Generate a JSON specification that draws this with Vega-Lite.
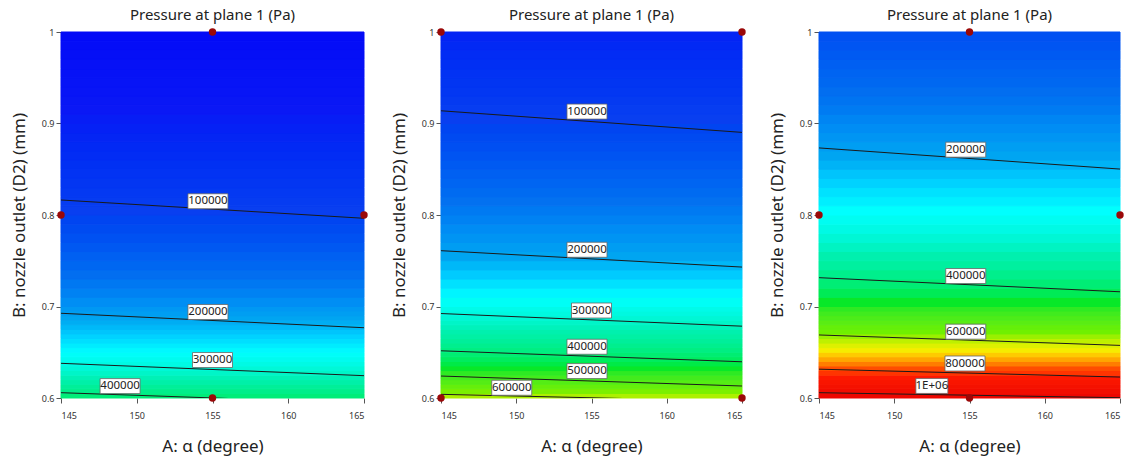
{
  "$schema": "https://vega.github.io/schema/vega-lite/v6.json",
  "background": "white",
  "padding": {"left": 10, "top": 8, "right": 4, "bottom": 4},
  "config": {
    "font": "Noto Sans",
    "view": {"stroke": null},
    "axis": {"domain": false, "grid": false, "tickColor": "#555", "tickSize": 5, "labelFontSize": 9, "labelColor": "#333", "titleFontSize": 17, "titleFontWeight": "normal", "titleColor": "#222"},
    "title": {"fontSize": 15, "fontWeight": "normal", "color": "#222", "offset": 5},
    "concat": {"spacing": 22}
  },
  "datasets": {
    "strips": [
      {"p":1,"a":0.600,"b":0.605,"v":392000},{"p":1,"a":0.605,"b":0.610,"v":375000},{"p":1,"a":0.610,"b":0.615,"v":358000},{"p":1,"a":0.615,"b":0.620,"v":341000},
      {"p":1,"a":0.620,"b":0.625,"v":325000},{"p":1,"a":0.625,"b":0.630,"v":310000},{"p":1,"a":0.630,"b":0.635,"v":297000},{"p":1,"a":0.635,"b":0.640,"v":285000},
      {"p":1,"a":0.640,"b":0.645,"v":274000},{"p":1,"a":0.645,"b":0.650,"v":264000},{"p":1,"a":0.650,"b":0.655,"v":254000},{"p":1,"a":0.655,"b":0.660,"v":245000},
      {"p":1,"a":0.660,"b":0.665,"v":236000},{"p":1,"a":0.665,"b":0.670,"v":227000},{"p":1,"a":0.670,"b":0.675,"v":219000},{"p":1,"a":0.675,"b":0.680,"v":211000},
      {"p":1,"a":0.680,"b":0.685,"v":203000},{"p":1,"a":0.685,"b":0.690,"v":197000},{"p":1,"a":0.690,"b":0.695,"v":190000},{"p":1,"a":0.695,"b":0.700,"v":184000},
      {"p":1,"a":0.70,"b":0.71,"v":175000},{"p":1,"a":0.71,"b":0.72,"v":165000},{"p":1,"a":0.72,"b":0.73,"v":156000},{"p":1,"a":0.73,"b":0.74,"v":147000},
      {"p":1,"a":0.74,"b":0.75,"v":139000},{"p":1,"a":0.75,"b":0.76,"v":131000},{"p":1,"a":0.76,"b":0.77,"v":123000},{"p":1,"a":0.77,"b":0.78,"v":116000},
      {"p":1,"a":0.78,"b":0.79,"v":110000},{"p":1,"a":0.79,"b":0.80,"v":104000},{"p":1,"a":0.80,"b":0.81,"v":99000},{"p":1,"a":0.81,"b":0.82,"v":94000},
      {"p":1,"a":0.82,"b":0.83,"v":89000},{"p":1,"a":0.83,"b":0.84,"v":84000},{"p":1,"a":0.84,"b":0.85,"v":79000},{"p":1,"a":0.85,"b":0.86,"v":75000},
      {"p":1,"a":0.86,"b":0.87,"v":70000},{"p":1,"a":0.87,"b":0.88,"v":66000},{"p":1,"a":0.88,"b":0.89,"v":62000},{"p":1,"a":0.89,"b":0.90,"v":58000},
      {"p":1,"a":0.90,"b":0.91,"v":54000},{"p":1,"a":0.91,"b":0.92,"v":50000},{"p":1,"a":0.92,"b":0.93,"v":46000},{"p":1,"a":0.93,"b":0.94,"v":42000},
      {"p":1,"a":0.94,"b":0.95,"v":38000},{"p":1,"a":0.95,"b":0.96,"v":34000},{"p":1,"a":0.96,"b":0.97,"v":30000},{"p":1,"a":0.97,"b":0.98,"v":26000},
      {"p":1,"a":0.98,"b":0.99,"v":22000},{"p":1,"a":0.99,"b":1.00,"v":18000},

      {"p":2,"a":0.600,"b":0.605,"v":592000},{"p":2,"a":0.605,"b":0.610,"v":565000},{"p":2,"a":0.610,"b":0.615,"v":540000},{"p":2,"a":0.615,"b":0.620,"v":515000},
      {"p":2,"a":0.620,"b":0.625,"v":492000},{"p":2,"a":0.625,"b":0.630,"v":471000},{"p":2,"a":0.630,"b":0.635,"v":452000},{"p":2,"a":0.635,"b":0.640,"v":433000},
      {"p":2,"a":0.640,"b":0.645,"v":415000},{"p":2,"a":0.645,"b":0.650,"v":398000},{"p":2,"a":0.650,"b":0.655,"v":383000},{"p":2,"a":0.655,"b":0.660,"v":370000},
      {"p":2,"a":0.660,"b":0.665,"v":357000},{"p":2,"a":0.665,"b":0.670,"v":345000},{"p":2,"a":0.670,"b":0.675,"v":333000},{"p":2,"a":0.675,"b":0.680,"v":321000},
      {"p":2,"a":0.680,"b":0.685,"v":310000},{"p":2,"a":0.685,"b":0.690,"v":299000},{"p":2,"a":0.690,"b":0.695,"v":289000},{"p":2,"a":0.695,"b":0.700,"v":280000},
      {"p":2,"a":0.70,"b":0.71,"v":267000},{"p":2,"a":0.71,"b":0.72,"v":251000},{"p":2,"a":0.72,"b":0.73,"v":237000},{"p":2,"a":0.73,"b":0.74,"v":223000},
      {"p":2,"a":0.74,"b":0.75,"v":210000},{"p":2,"a":0.75,"b":0.76,"v":197000},{"p":2,"a":0.76,"b":0.77,"v":189000},{"p":2,"a":0.77,"b":0.78,"v":181000},
      {"p":2,"a":0.78,"b":0.79,"v":173000},{"p":2,"a":0.79,"b":0.80,"v":165000},{"p":2,"a":0.80,"b":0.81,"v":158000},{"p":2,"a":0.81,"b":0.82,"v":151000},
      {"p":2,"a":0.82,"b":0.83,"v":144000},{"p":2,"a":0.83,"b":0.84,"v":137000},{"p":2,"a":0.84,"b":0.85,"v":131000},{"p":2,"a":0.85,"b":0.86,"v":125000},
      {"p":2,"a":0.86,"b":0.87,"v":119000},{"p":2,"a":0.87,"b":0.88,"v":114000},{"p":2,"a":0.88,"b":0.89,"v":109000},{"p":2,"a":0.89,"b":0.90,"v":104000},
      {"p":2,"a":0.90,"b":0.91,"v":99000},{"p":2,"a":0.91,"b":0.92,"v":95000},{"p":2,"a":0.92,"b":0.93,"v":90000},{"p":2,"a":0.93,"b":0.94,"v":86000},
      {"p":2,"a":0.94,"b":0.95,"v":82000},{"p":2,"a":0.95,"b":0.96,"v":78000},{"p":2,"a":0.96,"b":0.97,"v":74000},{"p":2,"a":0.97,"b":0.98,"v":70000},
      {"p":2,"a":0.98,"b":0.99,"v":66000},{"p":2,"a":0.99,"b":1.00,"v":62000},

      {"p":3,"a":0.600,"b":0.605,"v":995000},{"p":3,"a":0.605,"b":0.610,"v":955000},{"p":3,"a":0.610,"b":0.615,"v":915000},{"p":3,"a":0.615,"b":0.620,"v":877000},
      {"p":3,"a":0.620,"b":0.625,"v":840000},{"p":3,"a":0.625,"b":0.630,"v":797000},{"p":3,"a":0.630,"b":0.635,"v":765000},{"p":3,"a":0.635,"b":0.640,"v":735000},
      {"p":3,"a":0.640,"b":0.645,"v":707000},{"p":3,"a":0.645,"b":0.650,"v":679000},{"p":3,"a":0.650,"b":0.655,"v":653000},{"p":3,"a":0.655,"b":0.660,"v":628000},
      {"p":3,"a":0.660,"b":0.665,"v":603000},{"p":3,"a":0.665,"b":0.670,"v":581000},{"p":3,"a":0.670,"b":0.675,"v":560000},{"p":3,"a":0.675,"b":0.680,"v":541000},
      {"p":3,"a":0.680,"b":0.685,"v":522000},{"p":3,"a":0.685,"b":0.690,"v":505000},{"p":3,"a":0.690,"b":0.695,"v":488000},{"p":3,"a":0.695,"b":0.700,"v":472000},
      {"p":3,"a":0.70,"b":0.71,"v":452000},{"p":3,"a":0.71,"b":0.72,"v":422000},{"p":3,"a":0.72,"b":0.73,"v":396000},{"p":3,"a":0.73,"b":0.74,"v":373000},
      {"p":3,"a":0.74,"b":0.75,"v":351000},{"p":3,"a":0.75,"b":0.76,"v":332000},{"p":3,"a":0.76,"b":0.77,"v":315000},{"p":3,"a":0.77,"b":0.78,"v":299000},
      {"p":3,"a":0.78,"b":0.79,"v":284000},{"p":3,"a":0.79,"b":0.80,"v":271000},{"p":3,"a":0.80,"b":0.81,"v":259000},{"p":3,"a":0.81,"b":0.82,"v":247000},
      {"p":3,"a":0.82,"b":0.83,"v":238000},{"p":3,"a":0.83,"b":0.84,"v":227000},{"p":3,"a":0.84,"b":0.85,"v":218000},{"p":3,"a":0.85,"b":0.86,"v":207000},
      {"p":3,"a":0.86,"b":0.87,"v":197000},{"p":3,"a":0.87,"b":0.88,"v":190000},{"p":3,"a":0.88,"b":0.89,"v":182000},{"p":3,"a":0.89,"b":0.90,"v":174000},
      {"p":3,"a":0.90,"b":0.91,"v":167000},{"p":3,"a":0.91,"b":0.92,"v":159000},{"p":3,"a":0.92,"b":0.93,"v":153000},{"p":3,"a":0.93,"b":0.94,"v":147000},
      {"p":3,"a":0.94,"b":0.95,"v":141000},{"p":3,"a":0.95,"b":0.96,"v":136000},{"p":3,"a":0.96,"b":0.97,"v":130000},{"p":3,"a":0.97,"b":0.98,"v":125000},
      {"p":3,"a":0.98,"b":0.99,"v":120000},{"p":3,"a":0.99,"b":1.00,"v":116000}
    ],
    "lines": [
      {"p":1,"lv":100000,"x":145,"y":0.8164},{"p":1,"lv":100000,"x":165,"y":0.7964},
      {"p":1,"lv":200000,"x":145,"y":0.6926},{"p":1,"lv":200000,"x":165,"y":0.6768},
      {"p":1,"lv":300000,"x":145,"y":0.6379},{"p":1,"lv":300000,"x":165,"y":0.6244},
      {"p":1,"lv":400000,"x":145,"y":0.6058},{"p":1,"lv":400000,"x":156,"y":0.5995},
      {"p":2,"lv":100000,"x":145,"y":0.9139},{"p":2,"lv":100000,"x":165,"y":0.8903},
      {"p":2,"lv":200000,"x":145,"y":0.7610},{"p":2,"lv":200000,"x":165,"y":0.7431},
      {"p":2,"lv":300000,"x":145,"y":0.6923},{"p":2,"lv":300000,"x":165,"y":0.6785},
      {"p":2,"lv":400000,"x":145,"y":0.6516},{"p":2,"lv":400000,"x":165,"y":0.6396},
      {"p":2,"lv":500000,"x":145,"y":0.6240},{"p":2,"lv":500000,"x":165,"y":0.6131},
      {"p":2,"lv":600000,"x":145,"y":0.6040},{"p":2,"lv":600000,"x":157,"y":0.5995},
      {"p":3,"lv":200000,"x":145,"y":0.8733},{"p":3,"lv":200000,"x":165,"y":0.8502},
      {"p":3,"lv":400000,"x":145,"y":0.7315},{"p":3,"lv":400000,"x":165,"y":0.7161},
      {"p":3,"lv":600000,"x":145,"y":0.6689},{"p":3,"lv":600000,"x":165,"y":0.6575},
      {"p":3,"lv":800000,"x":145,"y":0.6315},{"p":3,"lv":800000,"x":165,"y":0.6229},
      {"p":3,"lv":1000000,"x":145,"y":0.6058},{"p":3,"lv":1000000,"x":165,"y":0.6003}
    ],
    "labels": [
      {"p":1,"t":"100000","x":154.7,"y":0.815},{"p":1,"t":"200000","x":154.7,"y":0.694},
      {"p":1,"t":"300000","x":155.0,"y":0.6415},{"p":1,"t":"400000","x":148.9,"y":0.613},
      {"p":2,"t":"100000","x":154.7,"y":0.913},{"p":2,"t":"200000","x":154.7,"y":0.762},
      {"p":2,"t":"300000","x":155.0,"y":0.6956},{"p":2,"t":"400000","x":154.7,"y":0.656},
      {"p":2,"t":"500000","x":154.7,"y":0.6294},{"p":2,"t":"600000","x":149.7,"y":0.6112},
      {"p":3,"t":"200000","x":154.75,"y":0.8714},{"p":3,"t":"400000","x":154.75,"y":0.7333},
      {"p":3,"t":"600000","x":154.75,"y":0.6725},{"p":3,"t":"800000","x":154.7,"y":0.6377},
      {"p":3,"t":"1E+06","x":152.5,"y":0.6132}
    ],
    "points": [
      {"p":1,"x":155,"y":1.0},{"p":1,"x":145,"y":0.8},{"p":1,"x":165,"y":0.8},{"p":1,"x":155,"y":0.6},
      {"p":2,"x":145,"y":1.0},{"p":2,"x":165,"y":1.0},{"p":2,"x":145,"y":0.6},{"p":2,"x":165,"y":0.6},
      {"p":3,"x":155,"y":1.0},{"p":3,"x":145,"y":0.8},{"p":3,"x":165,"y":0.8},{"p":3,"x":155,"y":0.6}
    ]
  },
  "hconcat": [
    {
      "width": 303, "height": 366,
      "title": "Pressure at plane 1 (Pa)",
      "layer": [
        {"data": {"name": "strips"}, "transform": [{"filter": "datum.p == 1"}], "mark": {"type": "rect", "strokeWidth": 1},
         "encoding": {
           "y": {"field": "a", "type": "quantitative", "scale": {"domain": [0.6, 1], "nice": false, "zero": false}, "title": "B: nozzle outlet (D2) (mm)", "axis": {"values": [0.6, 0.7, 0.8, 0.9, 1], "format": ".1~f", "titlePadding": 13, "labelPadding": 2}},
           "y2": {"field": "b"},
           "color": {"field": "v", "type": "quantitative", "legend": null, "scale": {"domain": [0, 50000, 100000, 150000, 200000, 258000, 330000, 450000, 560000, 610000, 650000, 700000, 760000, 820000, 1050000], "range": ["#0000f8", "#0a18f5", "#0a40f0", "#0a70f0", "#0aa8f0", "#00ffff", "#00f0b0", "#00e828", "#70f000", "#c8f000", "#f5f000", "#ffb000", "#ff5000", "#ff1a00", "#e80000"]}},
           "stroke": {"field": "v", "type": "quantitative", "legend": null, "scale": {"domain": [0, 50000, 100000, 150000, 200000, 258000, 330000, 450000, 560000, 610000, 650000, 700000, 760000, 820000, 1050000], "range": ["#0000f8", "#0a18f5", "#0a40f0", "#0a70f0", "#0aa8f0", "#00ffff", "#00f0b0", "#00e828", "#70f000", "#c8f000", "#f5f000", "#ffb000", "#ff5000", "#ff1a00", "#e80000"]}}
         }},
        {"data": {"name": "lines"}, "transform": [{"filter": "datum.p == 1"}], "mark": {"type": "line", "color": "#1a1a1a", "strokeWidth": 1, "clip": true},
         "encoding": {
           "x": {"field": "x", "type": "quantitative", "scale": {"domain": [145, 165], "nice": false, "zero": false}, "title": "A: α (degree)", "axis": {"values": [145, 150, 155, 160, 165], "labelPadding": 8, "titlePadding": 18}},
           "y": {"field": "y", "type": "quantitative"},
           "detail": {"field": "lv", "type": "nominal"}
         }},
        {"data": {"name": "labels"}, "transform": [{"filter": "datum.p == 1"}], "mark": {"type": "point", "filled": true, "fill": "white", "stroke": "#666", "strokeWidth": 0.8, "opacity": 1, "size": 1600, "shape": "M-1,-0.375L1,-0.375L1,0.375L-1,0.375Z"},
         "encoding": {"x": {"field": "x", "type": "quantitative"}, "y": {"field": "y", "type": "quantitative"}}},
        {"data": {"name": "labels"}, "transform": [{"filter": "datum.p == 1"}], "mark": {"type": "text", "fontSize": 11.5, "color": "#222", "align": "center", "baseline": "middle"},
         "encoding": {"x": {"field": "x", "type": "quantitative"}, "y": {"field": "y", "type": "quantitative"}, "text": {"field": "t"}}},
        {"data": {"name": "points"}, "transform": [{"filter": "datum.p == 1"}], "mark": {"type": "point", "filled": true, "color": "#9a0808", "size": 55, "opacity": 1},
         "encoding": {"x": {"field": "x", "type": "quantitative"}, "y": {"field": "y", "type": "quantitative"}}}
      ]
    },
    {
      "width": 301, "height": 366,
      "title": "Pressure at plane 1 (Pa)",
      "layer": [
        {"data": {"name": "strips"}, "transform": [{"filter": "datum.p == 2"}], "mark": {"type": "rect", "strokeWidth": 1},
         "encoding": {
           "y": {"field": "a", "type": "quantitative", "scale": {"domain": [0.6, 1], "nice": false, "zero": false}, "title": "B: nozzle outlet (D2) (mm)", "axis": {"values": [0.6, 0.7, 0.8, 0.9, 1], "format": ".1~f", "titlePadding": 13, "labelPadding": 2}},
           "y2": {"field": "b"},
           "color": {"field": "v", "type": "quantitative", "legend": null, "scale": {"domain": [0, 50000, 100000, 150000, 200000, 258000, 330000, 450000, 560000, 610000, 650000, 700000, 760000, 820000, 1050000], "range": ["#0000f8", "#0a18f5", "#0a40f0", "#0a70f0", "#0aa8f0", "#00ffff", "#00f0b0", "#00e828", "#70f000", "#c8f000", "#f5f000", "#ffb000", "#ff5000", "#ff1a00", "#e80000"]}},
           "stroke": {"field": "v", "type": "quantitative", "legend": null, "scale": {"domain": [0, 50000, 100000, 150000, 200000, 258000, 330000, 450000, 560000, 610000, 650000, 700000, 760000, 820000, 1050000], "range": ["#0000f8", "#0a18f5", "#0a40f0", "#0a70f0", "#0aa8f0", "#00ffff", "#00f0b0", "#00e828", "#70f000", "#c8f000", "#f5f000", "#ffb000", "#ff5000", "#ff1a00", "#e80000"]}}
         }},
        {"data": {"name": "lines"}, "transform": [{"filter": "datum.p == 2"}], "mark": {"type": "line", "color": "#1a1a1a", "strokeWidth": 1, "clip": true},
         "encoding": {
           "x": {"field": "x", "type": "quantitative", "scale": {"domain": [145, 165], "nice": false, "zero": false}, "title": "A: α (degree)", "axis": {"values": [145, 150, 155, 160, 165], "labelPadding": 8, "titlePadding": 18}},
           "y": {"field": "y", "type": "quantitative"},
           "detail": {"field": "lv", "type": "nominal"}
         }},
        {"data": {"name": "labels"}, "transform": [{"filter": "datum.p == 2"}], "mark": {"type": "point", "filled": true, "fill": "white", "stroke": "#666", "strokeWidth": 0.8, "opacity": 1, "size": 1600, "shape": "M-1,-0.375L1,-0.375L1,0.375L-1,0.375Z"},
         "encoding": {"x": {"field": "x", "type": "quantitative"}, "y": {"field": "y", "type": "quantitative"}}},
        {"data": {"name": "labels"}, "transform": [{"filter": "datum.p == 2"}], "mark": {"type": "text", "fontSize": 11.5, "color": "#222", "align": "center", "baseline": "middle"},
         "encoding": {"x": {"field": "x", "type": "quantitative"}, "y": {"field": "y", "type": "quantitative"}, "text": {"field": "t"}}},
        {"data": {"name": "points"}, "transform": [{"filter": "datum.p == 2"}], "mark": {"type": "point", "filled": true, "color": "#9a0808", "size": 55, "opacity": 1},
         "encoding": {"x": {"field": "x", "type": "quantitative"}, "y": {"field": "y", "type": "quantitative"}}}
      ]
    },
    {
      "width": 301, "height": 366,
      "title": "Pressure at plane 1 (Pa)",
      "layer": [
        {"data": {"name": "strips"}, "transform": [{"filter": "datum.p == 3"}], "mark": {"type": "rect", "strokeWidth": 1},
         "encoding": {
           "y": {"field": "a", "type": "quantitative", "scale": {"domain": [0.6, 1], "nice": false, "zero": false}, "title": "B: nozzle outlet (D2) (mm)", "axis": {"values": [0.6, 0.7, 0.8, 0.9, 1], "format": ".1~f", "titlePadding": 13, "labelPadding": 2}},
           "y2": {"field": "b"},
           "color": {"field": "v", "type": "quantitative", "legend": null, "scale": {"domain": [0, 50000, 100000, 150000, 200000, 258000, 330000, 450000, 560000, 610000, 650000, 700000, 760000, 820000, 1050000], "range": ["#0000f8", "#0a18f5", "#0a40f0", "#0a70f0", "#0aa8f0", "#00ffff", "#00f0b0", "#00e828", "#70f000", "#c8f000", "#f5f000", "#ffb000", "#ff5000", "#ff1a00", "#e80000"]}},
           "stroke": {"field": "v", "type": "quantitative", "legend": null, "scale": {"domain": [0, 50000, 100000, 150000, 200000, 258000, 330000, 450000, 560000, 610000, 650000, 700000, 760000, 820000, 1050000], "range": ["#0000f8", "#0a18f5", "#0a40f0", "#0a70f0", "#0aa8f0", "#00ffff", "#00f0b0", "#00e828", "#70f000", "#c8f000", "#f5f000", "#ffb000", "#ff5000", "#ff1a00", "#e80000"]}}
         }},
        {"data": {"name": "lines"}, "transform": [{"filter": "datum.p == 3"}], "mark": {"type": "line", "color": "#1a1a1a", "strokeWidth": 1, "clip": true},
         "encoding": {
           "x": {"field": "x", "type": "quantitative", "scale": {"domain": [145, 165], "nice": false, "zero": false}, "title": "A: α (degree)", "axis": {"values": [145, 150, 155, 160, 165], "labelPadding": 8, "titlePadding": 18}},
           "y": {"field": "y", "type": "quantitative"},
           "detail": {"field": "lv", "type": "nominal"}
         }},
        {"data": {"name": "labels"}, "transform": [{"filter": "datum.p == 3"}], "mark": {"type": "point", "filled": true, "fill": "white", "stroke": "#666", "strokeWidth": 0.8, "opacity": 1, "size": 1600},
         "encoding": {"x": {"field": "x", "type": "quantitative"}, "y": {"field": "y", "type": "quantitative"},
           "shape": {"condition": {"test": "datum.t == '1E+06'", "value": "M-0.8,-0.375L0.8,-0.375L0.8,0.375L-0.8,0.375Z"}, "value": "M-1,-0.375L1,-0.375L1,0.375L-1,0.375Z"}}},
        {"data": {"name": "labels"}, "transform": [{"filter": "datum.p == 3"}], "mark": {"type": "text", "fontSize": 11.5, "color": "#222", "align": "center", "baseline": "middle"},
         "encoding": {"x": {"field": "x", "type": "quantitative"}, "y": {"field": "y", "type": "quantitative"}, "text": {"field": "t"}}},
        {"data": {"name": "points"}, "transform": [{"filter": "datum.p == 3"}], "mark": {"type": "point", "filled": true, "color": "#9a0808", "size": 55, "opacity": 1},
         "encoding": {"x": {"field": "x", "type": "quantitative"}, "y": {"field": "y", "type": "quantitative"}}}
      ]
    }
  ]
}
